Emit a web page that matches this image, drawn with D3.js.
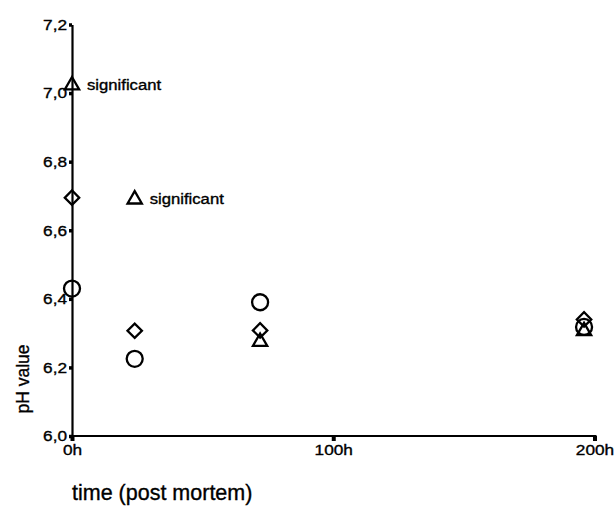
<!DOCTYPE html>
<html>
<head>
<meta charset="utf-8">
<script src="https://cdn.jsdelivr.net/npm/d3@7"></script>
<style>
  body { margin: 0; background: #fff; }
  text { font-family: "Liberation Sans", Arial, sans-serif; fill: #000; stroke: #000; stroke-width: 0.35px; }
</style>
</head>
<body>
<div id="main"></div>
<script>
// hours post mortem
var times = [0, 24, 72, 196];
var circleValues = [6.43, 6.225, 6.39, 6.318];
var diamondValues = [6.695, 6.307, 6.308, 6.34];
var triangleValues = [7.023, 6.69, 6.275, 6.306];
var triangleNotes = ["significant", "significant", "", ""];

var yTicks = [6.0, 6.2, 6.4, 6.6, 6.8, 7.0, 7.2];
var xTicks = [0, 100, 200];

var width = 616, height = 506;
var stretch = 1.15; // the scanned text is slightly wide

var translate = function(x, y) {
  return "translate(" + x + "," + y + ")";
};

var x = d3.scaleLinear()
    .domain([0, 200])
    .range([72, 594.5]);

var y = d3.scaleLinear()
    .domain([6.0, 7.2])
    .range([436, 24.5]);

var svg = d3.select("#main").append("svg")
    .attr("width", width)
    .attr("height", height);

var commaFormat = function(d) { return d3.format(".1f")(d).replace(".", ","); };

// y axis
var yAxis = d3.axisLeft(y)
    .tickValues(yTicks)
    .tickFormat(commaFormat)
    .tickSizeInner(3)
    .tickSizeOuter(0)
    .tickPadding(2);

var gy = svg.append("g")
    .attr("transform", translate(x(0), 0))
    .call(yAxis);

gy.select(".domain").attr("stroke-width", 2.2);
gy.selectAll(".tick line").attr("stroke-width", 3.5);
gy.selectAll(".tick text")
    .attr("font-size", 15)
    .attr("x", -5 / stretch)
    .attr("transform", "scale(" + stretch + ",1)");

// x axis
var xAxis = d3.axisBottom(x)
    .tickValues(xTicks)
    .tickFormat(function(d) { return d + "h"; })
    .tickSizeInner(5)
    .tickSizeOuter(0)
    .tickPadding(3);

var gx = svg.append("g")
    .attr("transform", translate(0, y(6.0)))
    .call(xAxis);

gx.select(".domain").attr("stroke-width", 2.2)
    .attr("d", "M" + (x(0) - 1) + ",0H" + (x(200) + 2));
gx.selectAll(".tick line").attr("stroke-width", 4);
gx.selectAll(".tick text")
    .attr("font-size", 15)
    .attr("transform", "scale(" + stretch + ",1)");

svg.selectAll(".tick line").attr("stroke", "#000");
svg.selectAll(".domain").attr("stroke", "#000");

// markers
var circleSym = d3.symbol().type(d3.symbolCircle).size(Math.PI * 8 * 8);
var diamondSym = d3.symbol().type(d3.symbolSquare).size(104);
var triangleSym = d3.symbol().type(d3.symbolTriangle).size(88);

var marks = svg.append("g")
    .attr("fill", "none")
    .attr("stroke", "#000")
    .attr("stroke-width", 2.3);

marks.selectAll(".circle")
    .data(circleValues)
    .enter().append("path")
    .attr("class", "circle")
    .attr("d", circleSym)
    .attr("transform", function(d, i) { return translate(x(times[i]), y(d)); });

marks.selectAll(".diamond")
    .data(diamondValues)
    .enter().append("path")
    .attr("class", "diamond")
    .attr("d", diamondSym)
    .attr("transform", function(d, i) { return translate(x(times[i]), y(d)) + " rotate(45)"; });

marks.selectAll(".triangle")
    .data(triangleValues)
    .enter().append("path")
    .attr("class", "triangle")
    .attr("d", triangleSym)
    .attr("transform", function(d, i) { return translate(x(times[i]), y(d)); });

// significance notes beside the triangles
svg.selectAll(".note")
    .data(triangleValues)
    .enter().append("g")
    .attr("class", "note")
    .attr("transform", function(d, i) { return translate(x(times[i]) + 15, y(d) + 5) + " scale(" + stretch + ",1)"; })
    .append("text")
    .attr("font-size", 14.5)
    .text(function(d, i) { return triangleNotes[i]; });

// axis titles
svg.append("text")
    .attr("transform", translate(72, 500))
    .attr("font-size", 21.5)
    .text("time (post mortem)");

svg.append("text")
    .attr("transform", translate(29, 379) + " rotate(-90)")
    .attr("text-anchor", "middle")
    .attr("font-size", 17.5)
    .text("pH value");
</script>
</body>
</html>
